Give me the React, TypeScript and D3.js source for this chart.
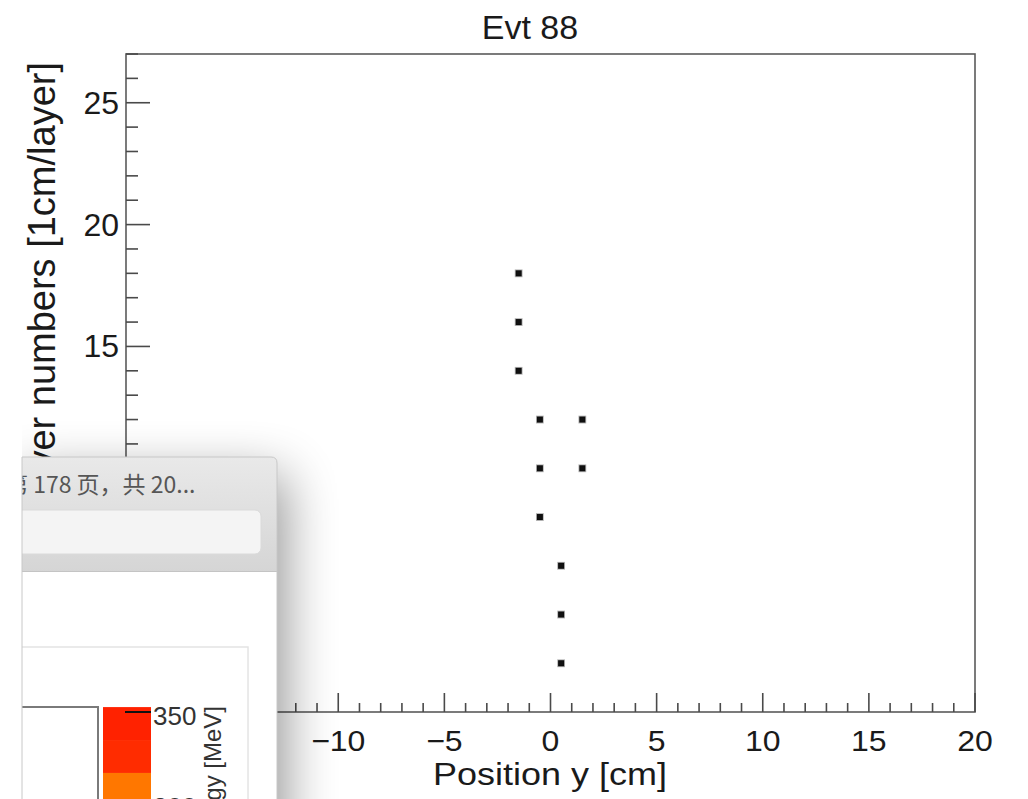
import React from "react";
import * as d3 from "d3";

// Hit positions of event 88: transverse position y [cm] and layer number
const hitPositionY = [-1.5, -1.5, -1.5, -0.5, 1.5, -0.5, 1.5, -0.5, 0.5, 0.5, 0.5];
const hitLayer = [18, 16, 14, 12, 12, 10, 10, 8, 6, 4, 2];

const xMajorTicks = [-20, -15, -10, -5, 0, 5, 10, 15, 20];
const yMajorTicks = [0, 5, 10, 15, 20, 25];

// Energy palette shown in the small viewer window
const energyTicks = [350, 300];
const energyBandEdges = [352.7, 334.6, 316.5, 298.4];
const energyBandColors = ["#ff2200", "#ff2c00", "#ff7700"];

const W = 1028;
const H = 799;
const FONT = "'Liberation Sans', Arial, Helvetica, sans-serif";

export default function App() {
  const left = 126, right = 975, top = 54, bottom = 712;
  const x = d3.scaleLinear().domain([-20, 20]).range([left, right]);
  const y = d3.scaleLinear().domain([0, 27]).range([bottom, top]);
  const xMinor = d3.range(-20, 21, 1).filter((v) => v % 5 !== 0);
  const yMinor = d3.range(0, 28, 1).filter((v) => v % 5 !== 0);

  const z = d3.scaleLinear().domain([300, 350]).range([803, 712]);

  const axisColor = "#4a4a4a";
  const win = { x0: 22, y0: 457, x1: 277, r: 6 };
  const winPath = `M${win.x0},${win.y0} H${win.x1 - win.r} Q${win.x1},${win.y0} ${win.x1},${win.y0 + win.r} V${H + 5} H${win.x0} Z`;

  return (
    <svg
      width={W}
      height={H}
      viewBox={`0 0 ${W} ${H}`}
      style={{ position: "fixed", left: 0, top: 0, background: "#fff" }}
    >
      <defs>
        <filter id="winShadow" x="-100%" y="-100%" width="300%" height="300%">
          <feGaussianBlur stdDeviation="26" />
        </filter>
        <linearGradient id="titleBar" x1="0" y1="0" x2="0" y2="1">
          <stop offset="0" stopColor="#e9e9e9" />
          <stop offset="1" stopColor="#d5d5d5" />
        </linearGradient>
        <clipPath id="winClip">
          <path d={winPath} />
        </clipPath>
      </defs>

      <rect x={0} y={0} width={W} height={H} fill="#fff" />

      {/* Title */}
      <text x={530} y={39} textAnchor="middle" fontFamily={FONT} fontSize={34} fill="#1a1a1a">
        Evt 88
      </text>

      {/* Frame */}
      <rect
        x={left}
        y={top}
        width={right - left}
        height={bottom - top}
        fill="none"
        stroke="#5a5a5a"
        strokeWidth={1.6}
      />

      {/* Y axis ticks */}
      {yMajorTicks.map((v) => (
        <line key={`ym${v}`} x1={left} x2={left + 24} y1={y(v)} y2={y(v)} stroke={axisColor} strokeWidth={1.6} />
      ))}
      {yMinor.map((v) => (
        <line key={`yn${v}`} x1={left} x2={left + 12} y1={y(v)} y2={y(v)} stroke={axisColor} strokeWidth={1.6} />
      ))}
      {yMajorTicks.map((v) => (
        <text
          key={`yl${v}`}
          x={left - 7}
          y={y(v) + 11}
          textAnchor="end"
          fontFamily={FONT}
          fontSize={32}
          fill="#1a1a1a"
        >
          {v}
        </text>
      ))}
      <text
        transform={`translate(55,62) rotate(-90)`}
        textAnchor="end"
        fontFamily={FONT}
        fontSize={38}
        fill="#1a1a1a"
      >
        Layer numbers [1cm/layer]
      </text>

      {/* X axis ticks */}
      {xMajorTicks.map((v) => (
        <line key={`xm${v}`} x1={x(v)} x2={x(v)} y1={bottom} y2={bottom - 19} stroke={axisColor} strokeWidth={1.6} />
      ))}
      {xMinor.map((v) => (
        <line key={`xn${v}`} x1={x(v)} x2={x(v)} y1={bottom} y2={bottom - 9} stroke={axisColor} strokeWidth={1.6} />
      ))}
      {xMajorTicks.map((v) => (
        <text
          key={`xl${v}`}
          transform={`translate(${x(v)},${bottom + 39}) scale(1,0.92)`}
          textAnchor="middle"
          fontFamily={FONT}
          fontSize={32}
          fill="#1a1a1a"
        >
          {v < 0 ? `\u2212${Math.abs(v)}` : v}
        </text>
      ))}
      <text
        transform={`translate(550,785) scale(1,0.88)`}
        textAnchor="middle"
        fontFamily={FONT}
        fontSize={36}
        fill="#1a1a1a"
      >
        Position y [cm]
      </text>

      {/* Hits */}
      {hitPositionY.map((p, i) => (
        <rect
          key={`h${i}`}
          x={x(p) - 3}
          y={y(hitLayer[i]) - 3}
          width={6}
          height={6}
          fill="#111"
          stroke="rgba(0,0,0,0.3)"
          strokeWidth={1.8}
        />
      ))}

      {/* Viewer window shadow */}
      <rect
        x={win.x0}
        y={win.y0 + 18}
        width={win.x1 - win.x0 + 8}
        height={420}
        fill="#000"
        opacity={0.42}
        filter="url(#winShadow)"
      />
      <rect x={0} y={0} width={win.x0} height={H} fill="#fff" />

      {/* Viewer window */}
      <g clipPath="url(#winClip)">
        <rect x={win.x0} y={win.y0} width={win.x1 - win.x0} height={115} fill="url(#titleBar)" />
        <text x={5} y={493} fontFamily="'Noto Sans CJK SC', 'Noto Sans', sans-serif" fontSize={23} fill="#565656">
          第 178 页，共 20...
        </text>
        <rect x={8} y={510} width={253} height={44} rx={6} fill="#f4f4f4" stroke="#dadada" strokeWidth={1} />
        <rect x={win.x0} y={571} width={win.x1 - win.x0} height={H} fill="#fff" />
        <line x1={win.x0} x2={win.x1} y1={571.5} y2={571.5} stroke="#c4c4c4" strokeWidth={1} />

        {/* Page inside viewer */}
        <rect x={0} y={647} width={248} height={200} fill="#fff" stroke="#e4e4e4" strokeWidth={1.5} />
        <path d={`M${win.x0},707 H98 V${H + 5}`} fill="none" stroke="#7a7a7a" strokeWidth={2} />

        {energyBandColors.map((c, i) => (
          <rect
            key={`zb${i}`}
            x={103}
            y={z(energyBandEdges[i])}
            width={48}
            height={z(energyBandEdges[i + 1]) - z(energyBandEdges[i])}
            fill={c}
          />
        ))}
        {energyTicks.map((t) => (
          <g key={`zt${t}`}>
            <line x1={125} x2={151} y1={z(t)} y2={z(t)} stroke="#111" strokeWidth={2} />
            <text x={153} y={z(t) + 13} fontFamily={FONT} fontSize={26} fill="#333">
              {t}
            </text>
          </g>
        ))}
        <text
          transform={`translate(221,706) rotate(-90)`}
          textAnchor="end"
          fontFamily={FONT}
          fontSize={24}
          fill="#333"
        >
          Energy [MeV]
        </text>
      </g>
      <path d={winPath} fill="none" stroke="#c8c8c8" strokeWidth={1} />
    </svg>
  );
}
